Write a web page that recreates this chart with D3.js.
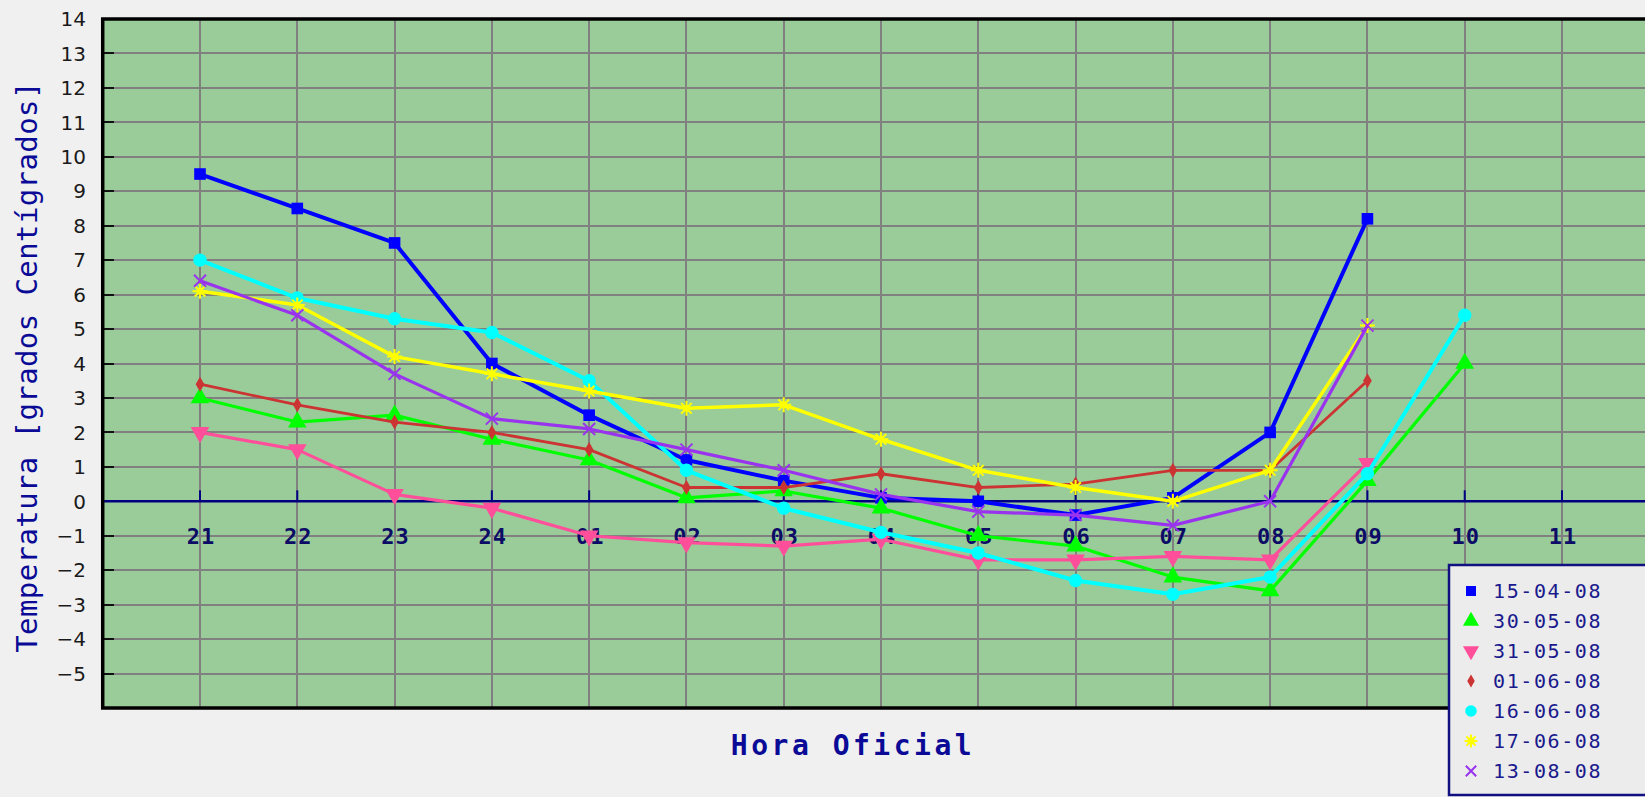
<!DOCTYPE html>
<html>
<head>
<meta charset="utf-8">
<script src="https://cdn.jsdelivr.net/npm/d3@7"></script>
<style>
  html, body { margin: 0; padding: 0; background: #f0f0f0; overflow: hidden; }
  svg { display: block; }
</style>
</head>
<body>
<div id="chart"></div>
<script>
// hours on the x axis
const hours = ['21', '22', '23', '24', '01', '02', '03', '04', '05', '06', '07', '08', '09', '10', '11'];
const yTicks = d3.range(-5, 15);

// one array per night (null = no reading)
const s150408 = [9.5, 8.5, 7.5, 4.0, 2.5, 1.2, 0.6, 0.1, 0.0, -0.4, 0.1, 2.0, 8.2, null, null];
const s300508 = [3.0, 2.3, 2.5, 1.8, 1.2, 0.1, 0.3, -0.2, -1.0, -1.3, -2.2, -2.6, 0.6, 4.0, null];
const s310508 = [2.0, 1.5, 0.2, -0.2, -1.0, -1.2, -1.3, -1.1, -1.7, -1.7, -1.6, -1.7, 1.1, null, null];
const s010608 = [3.4, 2.8, 2.3, 2.0, 1.5, 0.4, 0.4, 0.8, 0.4, 0.5, 0.9, 0.9, 3.5, null, null];
const s160608 = [7.0, 5.9, 5.3, 4.9, 3.5, 0.9, -0.2, -0.9, -1.5, -2.3, -2.7, -2.2, 0.8, 5.4, null];
const s170608 = [6.1, 5.7, 4.2, 3.7, 3.2, 2.7, 2.8, 1.8, 0.9, 0.4, 0.0, 0.9, 5.1, null, null];
const s130808 = [6.4, 5.4, 3.7, 2.4, 2.1, 1.5, 0.9, 0.2, -0.3, -0.4, -0.7, 0.0, 5.1, null, null];

const series = [
  { name: '15-04-08', values: s150408, color: '#0000ff', mark: 'square', lw: 4 },
  { name: '30-05-08', values: s300508, color: '#00ff00', mark: 'triUp', lw: 3.2 },
  { name: '31-05-08', values: s310508, color: '#ff4f9a', mark: 'triDown', lw: 3.2 },
  { name: '01-06-08', values: s010608, color: '#cc3333', mark: 'diamond', lw: 2.8 },
  { name: '16-06-08', values: s160608, color: '#00ffff', mark: 'circle', lw: 4 },
  { name: '17-06-08', values: s170608, color: '#ffff00', mark: 'star', lw: 3.5 },
  { name: '13-08-08', values: s130808, color: '#9933ee', mark: 'times', lw: 3.2 }
];

const W = 1645, H = 797;
const navy = '#0a0a96';

const x = d3.scalePoint().domain(hours).range([200, 1562]);
const step = x.step();
const y = d3.scaleLinear().domain([-6, 14]).range([708, 19]);
const pLeft = x(hours[0]) - step, pRight = x(hours[hours.length - 1]) + step;
const pTop = y(14), pBottom = y(-6);

const svg = d3.select('#chart').append('svg')
  .attr('width', W).attr('height', H);
svg.append('rect').attr('width', W).attr('height', H).attr('fill', '#f0f0f0');

// plot background
svg.append('rect')
  .attr('x', pLeft).attr('y', pTop)
  .attr('width', pRight - pLeft).attr('height', pBottom - pTop)
  .attr('fill', '#99cc99');

// grid
const grid = svg.append('g').attr('stroke', '#808080').attr('stroke-width', 2).attr('shape-rendering', 'crispEdges');
grid.selectAll('line.h').data(yTicks.filter(d => d !== 0 && d < 14)).enter().append('line')
  .attr('x1', pLeft).attr('x2', pRight)
  .attr('y1', d => y(d)).attr('y2', d => y(d));
grid.selectAll('line.v').data(hours).enter().append('line')
  .attr('x1', d => x(d)).attr('x2', d => x(d))
  .attr('y1', pTop).attr('y2', pBottom);

// y ticks inside left edge
svg.append('g').attr('stroke', '#111').attr('stroke-width', 2).attr('shape-rendering', 'crispEdges')
  .selectAll('line').data(yTicks.filter(d => d < 14)).enter().append('line')
  .attr('x1', pLeft).attr('x2', pLeft + 11)
  .attr('y1', d => y(d)).attr('y2', d => y(d));

// zero line and x ticks
svg.append('line')
  .attr('x1', pLeft).attr('x2', pRight).attr('y1', y(0)).attr('y2', y(0))
  .attr('stroke', '#000080').attr('stroke-width', 2.5);
svg.append('g').attr('stroke', '#000080').attr('stroke-width', 2)
  .selectAll('line').data(hours).enter().append('line')
  .attr('x1', d => x(d)).attr('x2', d => x(d))
  .attr('y1', y(0)).attr('y2', y(0) - 11);

// x tick labels
svg.append('g').selectAll('text').data(hours).enter().append('text')
  .attr('x', d => x(d) + 1).attr('y', 544)
  .attr('text-anchor', 'middle')
  .style('font-family', 'DejaVu Sans Mono')
  .style('font-weight', 'bold')
  .style('font-size', '22px')
  .style('letter-spacing', '1px')
  .attr('fill', '#0c0c66')
  .text(d => d);

// frame (left, top, bottom)
svg.append('path')
  .attr('d', `M${pRight},${pTop}H${pLeft}V${pBottom}H${pRight}`)
  .attr('fill', 'none').attr('stroke', '#000').attr('stroke-width', 3.5);

// y tick labels
svg.append('g').selectAll('text').data(yTicks).enter().append('text')
  .attr('x', 86).attr('y', d => y(d))
  .attr('dy', '0.36em')
  .attr('text-anchor', 'end')
  .style('font-family', 'DejaVu Sans')
  .style('font-size', '20px')
  .attr('fill', '#1a1a1a')
  .text(d => d3.format('')(d));

// axis titles
svg.append('text')
  .attr('transform', `translate(37,${(82 + 652) / 2}) rotate(-90)`)
  .attr('text-anchor', 'middle')
  .style('font-family', 'DejaVu Sans Mono')
  .style('font-size', '29px')
  .style('letter-spacing', '0.4px')
  .attr('fill', navy)
  .text('Temperatura [grados Centígrados]');

svg.append('text')
  .attr('x', 853).attr('y', 755)
  .attr('text-anchor', 'middle')
  .style('font-family', 'DejaVu Sans Mono')
  .style('font-weight', 'bold')
  .style('font-size', '28px')
  .style('letter-spacing', '3.5px')
  .attr('fill', navy)
  .text('Hora Oficial');

// markers
function marker(g, kind, color, cx, cy, s) {
  s = s || 1;
  const t = `translate(${cx},${cy})`;
  if (kind === 'square') {
    g.append('path').attr('transform', t).attr('d', d3.symbol(d3.symbolSquare, 135 * s)()).attr('fill', color);
  } else if (kind === 'triUp') {
    g.append('path').attr('transform', t).attr('d', d3.symbol(d3.symbolTriangle, 150 * s)()).attr('fill', color);
  } else if (kind === 'triDown') {
    g.append('path').attr('transform', t + ' rotate(180)').attr('d', d3.symbol(d3.symbolTriangle, 150 * s)()).attr('fill', color);
  } else if (kind === 'diamond') {
    g.append('path').attr('transform', t).attr('d', d3.symbol(d3.symbolDiamond, 65 * s)()).attr('fill', color);
  } else if (kind === 'circle') {
    g.append('path').attr('transform', t).attr('d', d3.symbol(d3.symbolCircle, 140 * s)()).attr('fill', color);
  } else if (kind === 'star') {
    const r = 7.5 * Math.sqrt(s);
    const p = d3.path();
    for (let k = 0; k < 4; k++) {
      const a = k * Math.PI / 4;
      p.moveTo(-r * Math.cos(a), -r * Math.sin(a));
      p.lineTo(r * Math.cos(a), r * Math.sin(a));
    }
    g.append('path').attr('transform', t).attr('d', p.toString()).attr('stroke', color).attr('stroke-width', 2).attr('fill', 'none');
    g.append('circle').attr('cx', cx).attr('cy', cy).attr('r', 3.5).attr('fill', color);
  } else if (kind === 'times') {
    const r = 6 * Math.sqrt(s);
    g.append('path').attr('transform', t)
      .attr('d', `M${-r},${-r}L${r},${r}M${-r},${r}L${r},${-r}`)
      .attr('stroke', color).attr('stroke-width', 2).attr('fill', 'none');
  }
}

const line = d3.line()
  .defined(d => d.v !== null)
  .x(d => x(d.h)).y(d => y(d.v));

const plot = svg.append('g');
series.forEach(s => {
  const pts = hours.map((h, i) => ({ h, v: s.values[i] }));
  const g = plot.append('g');
  g.append('path')
    .attr('d', line(pts))
    .attr('fill', 'none')
    .attr('stroke', s.color)
    .attr('stroke-width', s.lw)
    .attr('stroke-linejoin', 'round');
  pts.filter(d => d.v !== null).forEach(d => marker(g, s.mark, s.color, x(d.h), y(d.v)));
});

// legend
const lg = svg.append('g');
lg.append('rect')
  .attr('x', 1449).attr('y', 565)
  .attr('width', 220).attr('height', 230)
  .attr('fill', '#ececec')
  .attr('stroke', '#101080').attr('stroke-width', 2.5);
series.forEach((s, i) => {
  const cy = 591 + i * 30;
  marker(lg, s.mark, s.color, 1471, cy, 0.75);
  lg.append('text')
    .attr('x', 1493).attr('y', cy + 7)
    .style('font-family', 'DejaVu Sans Mono')
    .style('font-size', '20px')
    .style('letter-spacing', '1.6px')
    .attr('fill', '#1a1a8c')
    .text(s.name);
});
</script>
</body>
</html>
